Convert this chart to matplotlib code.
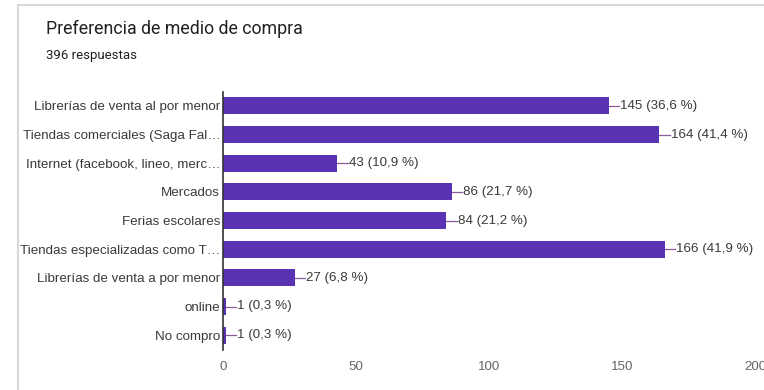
import matplotlib.pyplot as plt
from matplotlib.patches import Rectangle

categories = [
    "Librerías de venta al por menor",
    "Tiendas comerciales (Saga Fal…",
    "Internet (facebook, lineo, merc…",
    "Mercados",
    "Ferias escolares",
    "Tiendas especializadas como T…",
    "Librerías de venta a por menor",
    "online",
    "No compro",
]
counts = [145, 164, 43, 86, 84, 166, 27, 1, 1]
percents = ["36,6", "41,4", "10,9", "21,7", "21,2", "41,9", "6,8", "0,3", "0,3"]
xticks = [0, 50, 100, 150, 200]

plt.rcParams["font.family"] = ["Liberation Sans", "DejaVu Sans"]

BAR = "#5a33b4"
TEXT = "#3a3a3a"

fig = plt.figure(figsize=(7.64, 3.9), dpi=100)
fig.patch.set_facecolor("white")

# card frame (screenshot border)
fig.patches.append(Rectangle((18 / 764, -0.05), 1.0, 1 - 5 / 390 + 0.05,
                             transform=fig.transFigure, facecolor="none",
                             edgecolor="#d8d8d8", linewidth=1.5, zorder=0))

fig.text(46 / 764, 1 - 29 / 390, "Preferencia de medio de compra",
         fontsize=12.8, color="#202124", va="center", ha="left", family="Roboto")
fig.text(46 / 764, 1 - 56 / 390, "396 respuestas",
         fontsize=9.5, color="#202124", va="center", ha="left", family="Roboto")

ax = fig.add_axes([223 / 764, 1 - 349.5 / 390, (755 - 223) / 764, (349.5 - 91.5) / 390])
y = list(range(len(categories)))
ax.barh(y, counts, height=0.6, color=BAR, zorder=2)
ax.set_ylim(len(categories) - 0.5, -0.5)
ax.set_xlim(0, 200)
ax.set_yticks(y)
ax.set_yticklabels(categories, fontsize=9.6, color=TEXT)
ax.set_xticks(xticks)
ax.set_xticklabels([str(t) for t in xticks], fontsize=9.6, color="#666666")
ax.tick_params(axis="y", length=0, pad=2)
ax.tick_params(axis="x", length=0, pad=8)
for side in ["top", "right", "bottom"]:
    ax.spines[side].set_visible(False)
ax.spines["left"].set_color("#333333")
ax.spines["left"].set_linewidth(1.2)
ax.spines["left"].set_zorder(3)

for yi, c, p in zip(y, counts, percents):
    ax.plot([c, c + 4], [yi, yi], color="#8a5a9a", linewidth=0.9, zorder=3)
    ax.text(c + 4.3, yi, f"{c} ({p} %)", fontsize=9.6, color=TEXT,
            va="center", ha="left")

fig.savefig("out.png", dpi=100)
